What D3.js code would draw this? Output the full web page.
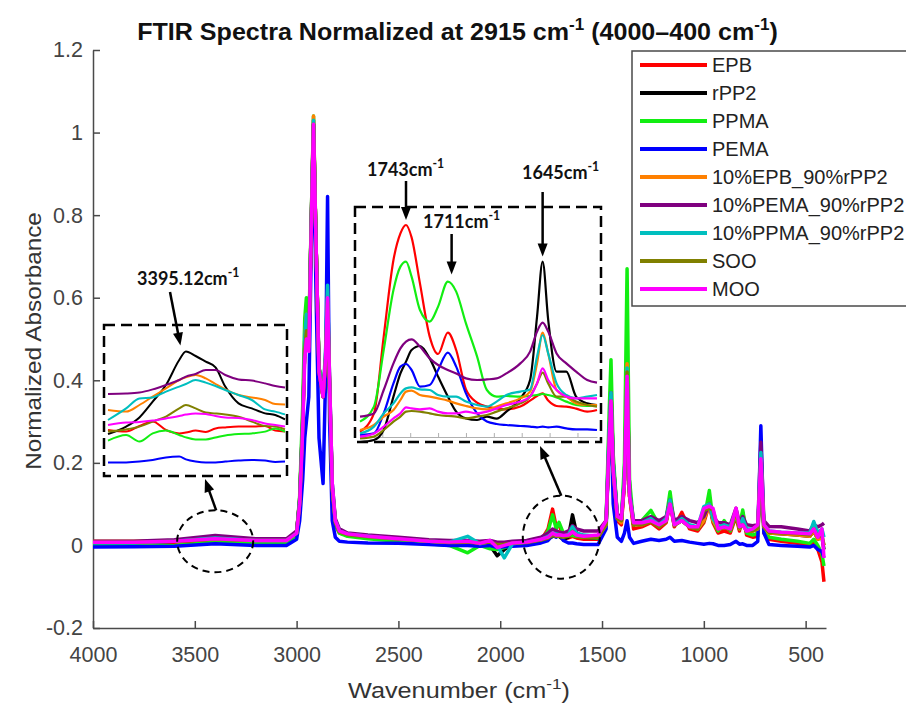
<!DOCTYPE html>
<html>
<head>
<meta charset="utf-8">
<script src="https://cdnjs.cloudflare.com/ajax/libs/d3/7.8.5/d3.min.js"></script>
<style>
    body { margin: 0; background: #fff; }
    svg { display: block; font-family: 'Liberation Sans', Arial, sans-serif; }
    .axis path, .axis line { stroke: #4a4a4a; stroke-width: 1.5; }
    .axis text { font-size: 21.5px; fill: #444; font-family: 'Liberation Sans', Arial, sans-serif; }
    .note { font-family: Lato, 'Open Sans', sans-serif; font-weight: bold; font-size: 18px; fill: #111; }
</style>
</head>
<body>
<div id="chart"></div>
<script>
//Series y colores
const SERIES = ['EPB', 'rPP2', 'PPMA', 'PEMA', '10%EPB_90%rPP2', '10%PEMA_90%rPP2', '10%PPMA_90%rPP2', 'SOO', 'MOO'];
const COLORS = ['#ff0000', '#000000', '#12ee12', '#0000ff', '#ff8000', '#7f007f', '#00bfbf', '#808000', '#ff00ff'];

const X_TICKS = [4000, 3500, 3000, 2500, 2000, 1500, 1000, 500];
const Y_TICKS = [-0.2, 0, 0.2, 0.4, 0.6, 0.8, 1, 1.2];

//Espectro completo (cm-1) y absorbancia normalizada de cada muestra
const WAVENUMBERS = [4000,3800,3600,3400,3200,3050,3000,2985,2970,2960,
    2952,2940,2928,2917,2905,2890,2870,2858,2848,2838,
    2825,2810,2790,2750,2650,2500,2350,2250,2160,2100,
    2050,2015,1980,1940,1870,1800,1765,1743,1725,1711,
    1690,1665,1645,1625,1590,1520,1480,1465,1456,1445,
    1425,1405,1390,1377,1365,1345,1305,1260,1220,1185,
    1166,1145,1108,1070,1030,1000,973,955,930,900,
    870,842,825,809,790,760,735,720,705,680,
    620,540,480,460,440,420,410];

const EPB = [0.006,0.006,0.008,0.012,0.010,0.010,0.030,0.11,0.30,0.48,
    0.55,0.50,0.78,1.03,0.74,0.42,0.36,0.44,0.58,0.38,
    0.14,0.05,0.03,0.025,0.02,0.013,0.008,0.005,0.006,0.004,
    0.006,0.0,0.002,0.004,0.006,0.012,0.04,0.088,0.045,0.05,
    0.022,0.018,0.022,0.018,0.015,0.015,0.05,0.25,0.37,0.19,
    0.06,0.05,0.15,0.44,0.12,0.04,0.045,0.055,0.04,0.055,
    0.11,0.045,0.08,0.04,0.035,0.055,0.10,0.055,0.03,0.035,
    0.03,0.07,0.035,0.08,0.025,0.02,0.022,0.19,0.03,0.015,
    0.01,0.005,0.0,0.01,-0.01,-0.04,-0.088];
const RPP2 = [0.005,0.006,0.010,0.022,0.012,0.012,0.030,0.11,0.30,0.48,
    0.55,0.50,0.78,1.02,0.74,0.43,0.38,0.44,0.57,0.38,
    0.14,0.06,0.034,0.026,0.02,0.014,0.01,0.006,0.005,0.008,
    0.0,-0.025,-0.01,0.004,0.006,0.01,0.016,0.022,0.03,0.022,
    0.014,0.02,0.074,0.03,0.02,0.018,0.05,0.26,0.38,0.20,
    0.07,0.06,0.16,0.45,0.13,0.05,0.055,0.06,0.045,0.06,
    0.11,0.05,0.06,0.045,0.04,0.06,0.11,0.06,0.04,0.045,
    0.04,0.08,0.04,0.065,0.035,0.035,0.04,0.20,0.045,0.03,
    0.028,0.025,0.022,0.035,0.015,0.02,-0.01];
const PPMA = [-0.002,-0.002,0.0,0.008,0.004,0.005,0.025,0.12,0.34,0.55,
    0.60,0.52,0.79,1.04,0.74,0.43,0.37,0.44,0.56,0.37,
    0.13,0.05,0.03,0.022,0.016,0.01,0.004,0.0,-0.018,0.0,
    -0.008,-0.01,-0.005,0.0,0.004,0.012,0.035,0.074,0.04,0.056,
    0.03,0.024,0.024,0.022,0.02,0.018,0.06,0.32,0.45,0.22,
    0.07,0.06,0.20,0.67,0.16,0.05,0.06,0.085,0.05,0.065,
    0.13,0.05,0.07,0.045,0.04,0.06,0.133,0.06,0.035,0.06,
    0.035,0.075,0.04,0.086,0.03,0.025,0.03,0.20,0.035,0.02,
    0.015,0.01,0.005,0.015,0.0,-0.02,-0.05];
const PEMA = [-0.004,-0.003,-0.002,0.004,0.0,0.0,0.015,0.06,0.16,0.26,
    0.30,0.36,0.72,1.0,0.62,0.26,0.15,0.40,0.845,0.30,
    0.06,0.02,0.01,0.008,0.006,0.005,0.002,0.0,0.0,-0.002,
    0.0,-0.005,-0.003,-0.002,0.0,0.006,0.012,0.025,0.02,0.03,
    0.012,0.006,0.006,0.004,0.002,0.002,0.04,0.25,0.30,0.10,
    0.02,0.01,0.03,0.06,0.02,0.005,0.01,0.015,0.012,0.015,
    0.02,0.01,0.012,0.008,0.005,0.003,0.005,0.004,0.0,0.0,
    0.002,0.01,0.003,0.004,0.0,0.0,0.01,0.29,0.03,0.002,
    0.0,-0.002,-0.004,0.0,-0.01,-0.015,-0.03];
const EPB_RPP2 = [0.010,0.010,0.012,0.018,0.014,0.014,0.030,0.11,0.31,0.50,
    0.56,0.50,0.79,1.04,0.74,0.43,0.37,0.44,0.58,0.38,
    0.14,0.06,0.034,0.027,0.022,0.016,0.01,0.008,0.01,0.006,
    0.008,0.002,0.004,0.006,0.008,0.014,0.022,0.03,0.03,0.028,
    0.022,0.024,0.042,0.026,0.022,0.02,0.05,0.26,0.37,0.19,
    0.065,0.055,0.16,0.44,0.12,0.05,0.05,0.06,0.045,0.06,
    0.105,0.05,0.065,0.045,0.04,0.06,0.10,0.06,0.04,0.045,
    0.04,0.08,0.04,0.06,0.035,0.035,0.04,0.20,0.045,0.03,
    0.028,0.025,0.022,0.035,0.015,0.02,0.0];
const PEMA_RPP2 = [0.010,0.010,0.014,0.024,0.016,0.016,0.035,0.11,0.30,0.48,
    0.54,0.50,0.78,1.02,0.74,0.42,0.36,0.46,0.62,0.40,
    0.15,0.065,0.04,0.03,0.025,0.02,0.014,0.012,0.012,0.01,
    0.012,0.008,0.008,0.01,0.012,0.02,0.03,0.04,0.035,0.032,
    0.03,0.035,0.048,0.04,0.035,0.035,0.06,0.27,0.37,0.20,
    0.075,0.07,0.16,0.42,0.13,0.06,0.06,0.07,0.06,0.07,
    0.11,0.06,0.07,0.06,0.055,0.07,0.10,0.07,0.055,0.055,
    0.05,0.09,0.055,0.07,0.05,0.048,0.05,0.25,0.06,0.046,
    0.045,0.04,0.035,0.05,0.045,0.05,0.054];
const PPMA_RPP2 = [0.006,0.006,0.010,0.018,0.012,0.012,0.030,0.11,0.31,0.50,
    0.56,0.50,0.79,1.03,0.74,0.43,0.37,0.47,0.63,0.40,
    0.15,0.06,0.035,0.027,0.022,0.015,0.01,0.008,0.022,0.004,
    0.01,0.0,-0.03,0.004,0.008,0.014,0.022,0.03,0.028,0.026,
    0.022,0.026,0.045,0.03,0.025,0.022,0.055,0.28,0.37,0.20,
    0.07,0.065,0.17,0.43,0.13,0.055,0.055,0.065,0.05,0.065,
    0.11,0.05,0.065,0.05,0.045,0.094,0.10,0.065,0.045,0.05,
    0.045,0.085,0.045,0.065,0.04,0.04,0.045,0.225,0.05,0.035,
    0.032,0.03,0.03,0.058,0.03,0.04,0.02];
const SOO = [0.008,0.008,0.010,0.015,0.012,0.012,0.030,0.10,0.29,0.47,
    0.52,0.48,0.77,1.02,0.74,0.42,0.36,0.45,0.59,0.39,
    0.14,0.055,0.033,0.026,0.021,0.015,0.01,0.007,0.008,0.005,
    0.008,0.002,0.003,0.005,0.007,0.013,0.018,0.024,0.022,0.022,
    0.02,0.022,0.034,0.024,0.02,0.02,0.05,0.25,0.35,0.18,
    0.065,0.06,0.15,0.42,0.12,0.05,0.05,0.058,0.045,0.058,
    0.10,0.048,0.06,0.044,0.04,0.085,0.09,0.085,0.04,0.043,
    0.038,0.085,0.042,0.05,0.035,0.036,0.042,0.20,0.045,0.032,
    0.03,0.028,0.025,0.04,0.02,0.025,0.0];
const MOO = [0.008,0.008,0.010,0.016,0.012,0.012,0.030,0.10,0.28,0.45,
    0.50,0.47,0.77,1.02,0.74,0.42,0.36,0.45,0.60,0.40,
    0.15,0.06,0.035,0.028,0.022,0.016,0.01,0.008,0.01,0.005,
    0.012,-0.005,0.0,0.006,0.008,0.015,0.02,0.03,0.025,0.026,
    0.024,0.025,0.033,0.025,0.022,0.025,0.06,0.25,0.35,0.18,
    0.07,0.065,0.15,0.41,0.12,0.055,0.055,0.06,0.05,0.06,
    0.10,0.05,0.06,0.045,0.045,0.09,0.095,0.09,0.04,0.045,
    0.04,0.09,0.045,0.05,0.035,0.04,0.05,0.21,0.05,0.035,
    0.032,0.03,0.028,0.04,0.02,0.04,-0.03];
const SPECTRA = [EPB, RPP2, PPMA, PEMA, EPB_RPP2, PEMA_RPP2, PPMA_RPP2, SOO, MOO];

//Zoom O-H (unidades relativas)
const OH_WAVENUMBERS = [3570,3529,3499,3469,3439,3409,3394,3372,3349,3327,3305,3275,3245,3215,3192,3170];
const OH_EPB = [23,22.2,25,27.2,23,21.3,21.7,22.7,22,23.8,24.3,24.7,24.7,25,22.7,22.2];
const OH_RPP2 = [21,24.7,29.3,37.2,45.5,58,62.2,60,57.2,54.3,44.7,36.3,33.8,31.3,30.5,28.3];
const OH_PPMA = [17.7,20.5,17.2,21.3,22.7,20.5,19.3,18.3,18.3,19.3,20.3,21,21.3,22.2,23.8,22.2];
const OH_PEMA = [6.7,6.8,7.2,8,9.3,9.7,8.3,7.2,6.7,6.8,7.2,7.7,8,7.7,7,7.2];
const OH_EPB_RPP2 = [33,32.2,35.5,39.7,43.8,48,49.3,50.5,48.8,46,43.3,40.5,39.3,38,36,35.8];
const OH_PEMA_RPP2 = [41,41.2,41.7,43.3,45.5,48,49.7,51,53,53,50.5,48.3,47.7,46.3,45,44.3];
const OH_PPMA_RPP2 = [28,33.8,38.8,39.3,42.2,44.7,46,48,46.7,45,43,40.5,38,33.3,32.2,30.8];
const OH_SOO = [22.2,23.3,24.7,27.2,29.7,33.8,35.5,33.8,31.7,31.3,30.8,29.7,27.2,25,24.7,23.3];
const OH_MOO = [25.5,26.7,27,27.7,28.8,30,30.7,31.3,31,30,29.3,29,28,26.3,25.5,24.7];
const OH_SPECTRA = [OH_EPB, OH_RPP2, OH_PPMA, OH_PEMA, OH_EPB_RPP2, OH_PEMA_RPP2, OH_PPMA_RPP2, OH_SOO, OH_MOO];

//Zoom C=O (unidades relativas)
const CO_WAVENUMBERS = [1776,1766,1759,1752,1747,1743,1739,1733,1726,1720,1713,1707,1700,1692,1685,1678,1671,1661,1654,1649,1645,1641,1635,1628,1621,1613,1606];
const CO_TICKS = [1760, 1740, 1720, 1700, 1680, 1660, 1640, 1620];
const CO_EPB = [5.2,14.3,52.7,91,104.3,108.5,102.3,79.3,52.7,44,54.7,46,26.3,19.7,17.7,16.8,16.3,17.7,20.7,23,24.3,20.7,18,17.7,16.7,15.2,16];
const CO_RPP2 = [0,1,6,22.7,34.3,40.2,46,48,41.8,32.7,22.7,15.2,11.8,11,12.7,11.7,15.2,21.8,31,62.7,90.2,61,35.2,35.2,22.7,19.3,18.5];
const CO_PPMA = [10.2,17.7,46,76,87.7,90.2,82.7,66,60.2,67.7,80.2,75.2,59.3,42.7,26,22.7,23,22.7,23,23.5,24,23.5,22.3,20.2,18.5,18,18.5];
const CO_PEMA = [3.5,4.3,14.3,29.3,37.7,39,36,27.7,28.5,36,44.7,37.7,24.3,14.3,10.2,9,8.5,8,7.7,7.3,7.7,7.3,7.7,6.8,6.3,6.3,6];
const CO_EPB_RPP2 = [6,8.5,12.7,16,21,25.2,25.7,23.5,22.7,21.8,20.7,19.3,18,16.8,16.3,17.7,19.3,21.8,25.2,39.3,54.7,44.3,26,22.7,19.3,18.5,18.5];
const CO_PEMA_RPP2 = [12.7,14.3,26,39.3,46.8,50.2,51.3,47.7,41.8,38.5,36,34.3,31.8,31,31.3,31.8,34.3,39.3,45.2,55.2,59.7,55.2,44.3,39.3,35.2,31,29.7];
const CO_PPMA_RPP2 = [4.3,7.7,14.3,19.3,24.3,26.8,27.3,26.3,26,23.5,22.7,22.7,20.2,18.5,17.7,20.2,23.5,25.2,26.3,42.7,53.5,44.3,29.3,23.5,21.8,22.7,23.5];
const CO_SOO = [1.8,2.7,6,10.2,12.7,15.2,15.5,15.2,14.3,13.5,13,12.7,11.8,12.7,13.5,15.2,16.8,19.3,22.7,29.3,34.7,29.3,22.7,22.7,20.2,18.5,17.7];
const CO_MOO = [2.7,4.3,7.7,11.8,14.3,17.3,16.8,16.3,16.8,15.2,14.3,14.3,15.2,14.3,15.2,16.8,18.5,20.2,22.7,29.3,36.8,31,26,22.7,21.8,21.8,21.8];
const CO_SPECTRA = [CO_EPB, CO_RPP2, CO_PPMA, CO_PEMA, CO_EPB_RPP2, CO_PEMA_RPP2, CO_PPMA_RPP2, CO_SOO, CO_MOO];

//Lienzo
let svg = d3.select('#chart')
    .append('svg')
        .attr('width', 906)
        .attr('height', 704);

let x = d3.scaleLinear().domain([4000, 400]).range([93, 826]);
let y = d3.scaleLinear().domain([-0.2, 1.2]).range([628, 50]);

//Ejes (ticks hacia dentro, estilo MATLAB)
let xAxis = d3.axisBottom(x).tickValues(X_TICKS).tickSize(-7).tickSizeOuter(0).tickPadding(19)
    .tickFormat(d3.format('d'));
let yAxis = d3.axisLeft(y).tickValues(Y_TICKS).tickSize(-7).tickSizeOuter(0).tickPadding(10)
    .tickFormat(function(d) { return String(+d.toFixed(1)); });

svg.append('g').attr('class', 'axis').attr('transform', 'translate(0,628)').call(xAxis);
svg.append('g').attr('class', 'axis').attr('transform', 'translate(93,0)').call(yAxis);

//Espectros principales
let line = d3.line()
    .defined(function(d) { return d[1] != null; })
    .x(function(d) { return x(d[0]); })
    .y(function(d) { return y(d[1]); });

SPECTRA.forEach(function(values, i) {
    svg.append('path')
        .datum(WAVENUMBERS.map(function(w, j) { return [w, values[j]]; }))
        .attr('d', line)
        .attr('fill', 'none')
        .attr('stroke', COLORS[i])
        .attr('stroke-width', 3.5)
        .attr('stroke-linejoin', 'round');
});

//Recuadros de zoom
function drawInset(xs, ys, wavenumbers, spectra, width) {
    let l = d3.line()
        .curve(d3.curveMonotoneX)
        .defined(function(d) { return d[1] != null; })
        .x(function(d) { return xs(d[0]); })
        .y(function(d) { return ys(d[1]); });
    spectra.forEach(function(values, i) {
        svg.append('path')
            .datum(wavenumbers.map(function(w, j) { return [w, values[j]]; }))
            .attr('d', l)
            .attr('fill', 'none')
            .attr('stroke', COLORS[i])
            .attr('stroke-width', width);
    });
}

let xOH = d3.scaleLinear().domain([3570, 3170]).range([108, 285]);
let yOH = d3.scaleLinear().domain([0, 75.5]).range([476, 325]);
drawInset(xOH, yOH, OH_WAVENUMBERS, OH_SPECTRA, 2);

let xCO = d3.scaleLinear().domain([1776, 1606]).range([360, 597]);
let yCO = d3.scaleLinear().domain([0, 117.5]).range([442, 207]);

svg.append('g')
    .attr('transform', 'translate(0,437)')
    .call(d3.axisBottom(xCO).tickValues(CO_TICKS).tickSize(-4).tickSizeOuter(0).tickFormat(''))
    .call(function(g) {
        g.selectAll('path, line').attr('stroke', '#b0b0b0').attr('stroke-width', 1);
    });

drawInset(xCO, yCO, CO_WAVENUMBERS, CO_SPECTRA, 2.2);

svg.append('rect').attr('x', 104).attr('y', 325).attr('width', 183).attr('height', 151)
    .attr('fill', 'none').attr('stroke', '#000').attr('stroke-width', 2.5).attr('stroke-dasharray', '11,6');
svg.append('rect').attr('x', 355).attr('y', 207).attr('width', 246).attr('height', 235)
    .attr('fill', 'none').attr('stroke', '#000').attr('stroke-width', 2.5).attr('stroke-dasharray', '11,6');

//Elipses sobre las zonas ampliadas
svg.append('ellipse').attr('cx', x(3400)).attr('cy', y(0.01)).attr('rx', 38).attr('ry', 31)
    .attr('fill', 'none').attr('stroke', '#000').attr('stroke-width', 2).attr('stroke-dasharray', '7,5');
svg.append('ellipse').attr('cx', x(1700)).attr('cy', y(0.02)).attr('rx', 38.5).attr('ry', 41.5)
    .attr('fill', 'none').attr('stroke', '#000').attr('stroke-width', 2).attr('stroke-dasharray', '7,5');

//Flechas
function arrow(x1, y1, x2, y2) {
    let dx = x2 - x1, dy = y2 - y1, len = Math.sqrt(dx * dx + dy * dy);
    let ux = dx / len, uy = dy / len, L = 13, w = 5;
    let bx = x2 - ux * L, by = y2 - uy * L;
    svg.append('line').attr('x1', x1).attr('y1', y1).attr('x2', bx + ux).attr('y2', by + uy)
        .attr('stroke', '#000').attr('stroke-width', 2.5);
    svg.append('path')
        .attr('d', 'M' + x2 + ',' + y2 + 'L' + (bx - uy * w) + ',' + (by + ux * w) + 'L' + (bx + uy * w) + ',' + (by - ux * w) + 'Z')
        .attr('fill', '#000');
}

arrow(170, 292, xOH(3395) - 5, yOH(62.2) - 6);
arrow(x(3400) + 1, y(0.01) - 31, 205, 479);
arrow(x(1700), y(0.02) - 41.5, 540, 446);
arrow(xCO(1743), 181, xCO(1743), yCO(108.5) - 5);
arrow(xCO(1711) + 1, 234, xCO(1711) + 1, yCO(80.2) - 7);
arrow(xCO(1645), 192, xCO(1645), yCO(90.2) - 5);

//Etiquetas de picos
function supText(sel, parts, size) {
    let up = false;
    parts.forEach(function(p) {
        let t = sel.append('tspan').text(p[0]);
        if (p[1] && !up) { t.attr('dy', -0.42 * size).style('font-size', (size * 0.68) + 'px'); up = true; }
        else if (!p[1] && up) { t.attr('dy', 0.42 * size); up = false; }
    });
    return sel;
}

supText(svg.append('text').attr('class', 'note').attr('x', 137).attr('y', 285), [['3395.12cm', false], ['-1', true]], 18);
supText(svg.append('text').attr('class', 'note').attr('x', 367).attr('y', 176), [['1743cm', false], ['-1', true]], 18);
supText(svg.append('text').attr('class', 'note').attr('x', 423).attr('y', 228), [['1711cm', false], ['-1', true]], 18);
supText(svg.append('text').attr('class', 'note').attr('x', 522).attr('y', 179), [['1645cm', false], ['-1', true]], 18);

//Título y nombres de ejes, ajustados al ancho de la figura
function fitText(sel, cx, cy, width, rot) {
    let w = sel.node().getBBox().width;
    sel.attr('transform', 'translate(' + cx + ',' + cy + ') rotate(' + (rot || 0) + ') scale(' + (width / w) + ',1)');
}

let title = svg.append('text').attr('text-anchor', 'middle')
    .style('font-size', '23px').style('font-weight', 'bold').attr('fill', '#111');
supText(title, [['FTIR Spectra Normalized at 2915 cm', false], ['-1', true], [' (4000\u2013400 cm', false], ['-1', true], [')', false]], 23);
fitText(title, 457.5, 40, 641);

let xLabel = svg.append('text').attr('text-anchor', 'middle')
    .style('font-size', '22px').attr('fill', '#333');
supText(xLabel, [['Wavenumber (cm', false], ['-1', true], [')', false]], 22);
fitText(xLabel, 459, 698, 222);

let yLabel = svg.append('text').attr('text-anchor', 'middle')
    .style('font-size', '22px').attr('fill', '#333')
    .text('Normalized Absorbance');
fitText(yLabel, 41, 341, 258, -90);

//Leyenda
let legend = svg.append('g').attr('transform', 'translate(632,51)');

legend.append('rect')
    .attr('width', 300).attr('height', 255)
    .attr('fill', '#fff').attr('stroke', '#4a4a4a').attr('stroke-width', 1.5);

SERIES.forEach(function(name, i) {
    let row = legend.append('g').attr('transform', 'translate(0,' + (14 + i * 28) + ')');
    row.append('line').attr('x1', 8).attr('x2', 75)
        .attr('stroke', COLORS[i]).attr('stroke-width', 4);
    row.append('text').attr('x', 80).attr('dy', '0.36em')
        .style('font-size', '20px').attr('fill', '#222')
        .text(name);
});
</script>
</body>
</html>
